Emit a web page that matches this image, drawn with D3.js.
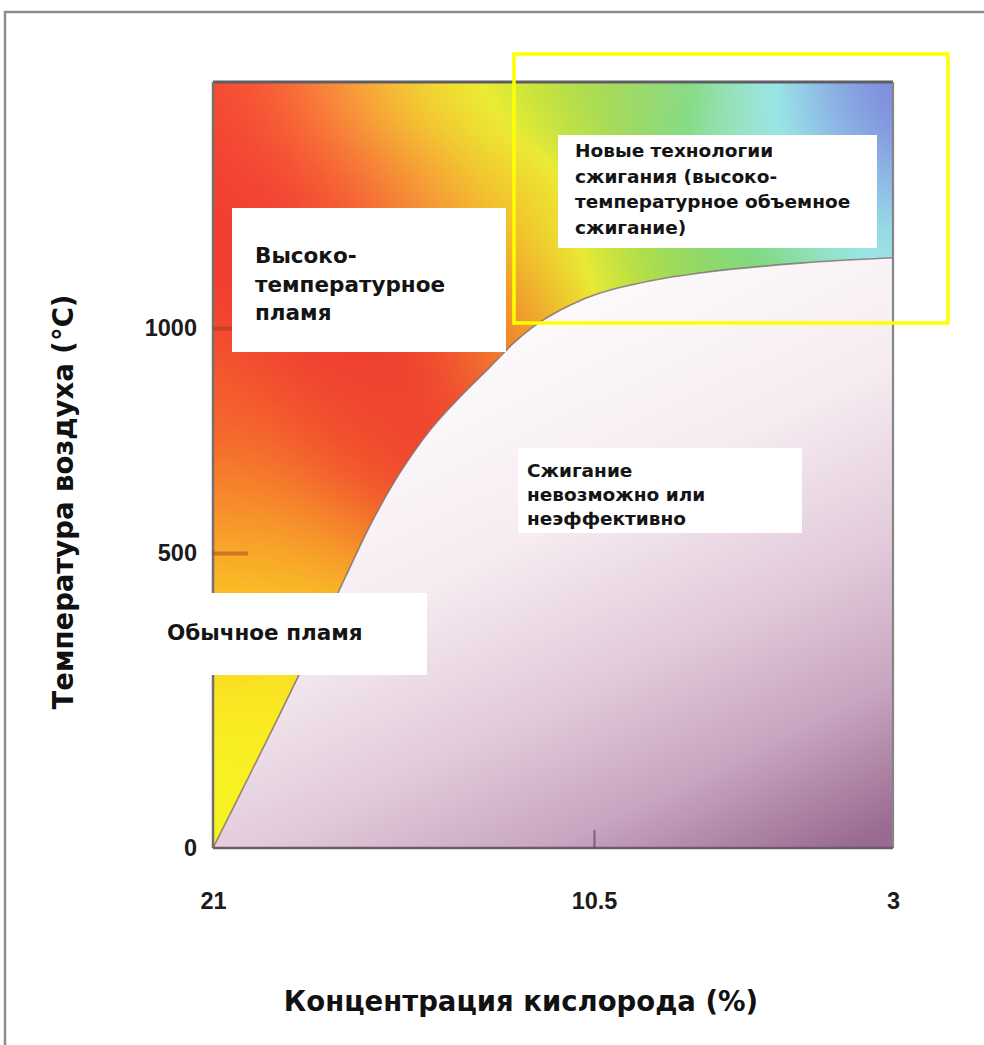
<!DOCTYPE html>
<html><head><meta charset="utf-8">
<script src="https://cdn.jsdelivr.net/npm/d3@7"></script>
<style>body{margin:0;background:#fff;} svg{display:block}</style>
</head><body>
<svg id="chart" width="984" height="1045"></svg>
<script>
// ---------- data ----------
const oxygenTicks = [21, 10.5, 3];
const tempTicks = [0, 500, 1000];
const tempTop = 1550;
// boundary between flame and "no combustion" region
const boundaryOxygen = [21, 19.98, 19.10, 18.22, 17.36, 16.62, 15.85, 15.02, 14.19, 13.37, 12.68, 11.99, 11.16, 10.35, 9.10, 7.84, 5.33, 3];
const boundaryTemp   = [0, 125, 234, 346, 458, 569, 678, 773, 847, 913, 969, 1013, 1051, 1078, 1105, 1123, 1145, 1157];
const labelHighFlame = ["Высоко-", "температурное", "пламя"];
const labelNewTech = ["Новые технологии", "сжигания (высоко-", "температурное объемное", "сжигание)"];
const labelNoBurn = ["Сжигание", "невозможно или", "неэффективно"];
const labelNormal = ["Обычное пламя"];
const xTitle = "Концентрация кислорода (%)";
const yTitle = "Температура воздуха (°C)";

// ---------- layout ----------
const L = 213, R = 893, T = 82, B = 848;
const x = d3.scaleLinear().domain([21, 10.5, 3]).range([L, 594, R]);
const y = d3.scaleLinear().domain([0, 500, 1000, tempTop]).range([B, 553, 328, T]);

const svg = d3.select("#chart");
const defs = svg.append("defs");

// outer frame
svg.append("rect").attr("x", 5).attr("y", 12).attr("width", 1000).attr("height", 1060)
  .attr("fill", "none").attr("stroke", "#8c8c8c").attr("stroke-width", 2.5);

const pts = boundaryOxygen.map((o, i) => [x(o), y(boundaryTemp[i])]);
const lineGen = d3.line().curve(d3.curveCatmullRom.alpha(0.5));
const curveD = lineGen(pts);
const aboveD = curveD + `L${R},${T}L${L},${T}Z`;
const belowD = curveD + `L${R},${B}Z`;

// ---------- colour field (style) for flame region ----------
// [fx, fy, hue, sat, light] in plot-relative fractions
const stops = [
  [0.003,0,5,.9,.58],[0.113,0,14,.95,.6],[0.2,0,32,.95,.62],[0.304,0,52,.9,.57],[0.393,0,62,.82,.55],
  [0.51,0,76,.7,.57],[0.628,0,88,.6,.62],[0.731,0,108,.5,.7],[0.819,0,172,.5,.8],[0.88,0,195,.8,.78],
  [0.94,0,220,.7,.72],[0.975,0,240,.55,.66],[0.999,0,250,.45,.62],[0.999,0.04,245,.5,.65],
  [0.996,0.1,225,.65,.72],[0.996,0.154,200,.7,.75],[0.996,0.219,170,.55,.78],
  [0.9,0.1,200,.7,.78],[0.82,0.12,150,.5,.75],
  [0.834,0.219,115,.5,.68],[0.716,0.232,92,.6,.62],[0.599,0.258,78,.7,.57],[0.51,0.285,60,.85,.55],
  [0.466,0.308,42,.9,.55],[0.437,0.154,50,.9,.56],[0.429,0.324,25,.9,.56],
  [0.393,0.343,3,.85,.57],[0.304,0.324,2,.85,.56],[0.172,0.311,2,.85,.57],[0.069,0.219,3,.88,.57],
  [0.04,0.089,4,.88,.57],[0.187,0.154,8,.9,.58],[0.3,0.15,30,.92,.6],
  [0.01,0.415,12,.9,.57],[0.01,0.52,24,.92,.57],[0.01,0.624,38,.95,.57],[0.01,0.742,52,.95,.55],
  [0.01,0.885,58,.95,.55],[0.013,0.99,60,.9,.55],
  [0.172,0.467,12,.88,.56],[0.128,0.585,30,.92,.57],[0.246,0.441,6,.86,.56],[0.084,0.807,57,.95,.56],
  [0.09,0.69,48,.95,.56]
];
function hsl2rgb(h, s, l) {
  h = (((h % 360) + 360) % 360) / 360;
  const q = l < 0.5 ? l * (1 + s) : l + s - l * s, p = 2 * l - q;
  const f = t => { if (t < 0) t += 1; if (t > 1) t -= 1;
    if (t < 1/6) return p + (q - p) * 6 * t; if (t < 1/2) return q;
    if (t < 2/3) return p + (q - p) * (2/3 - t) * 6; return p; };
  return [f(h + 1/3), f(h), f(h - 1/3)].map(v => Math.round(v * 255));
}
const PW = R - L, PH = B - T, sc = 0.5, sig2 = 2 * 55 * 55;
const cw = Math.round(PW * sc), ch = Math.round(PH * sc);
const canvas = document.createElement("canvas");
canvas.width = cw; canvas.height = ch;
const ctx = canvas.getContext("2d");
const img = ctx.createImageData(cw, ch);
for (let j = 0; j < ch; j++) {
  for (let i = 0; i < cw; i++) {
    const px = (i + 0.5) / sc, py = (j + 0.5) / sc;
    let ws = 0, hh = 0, ss = 0, ll = 0;
    for (const st of stops) {
      const dx = px - st[0] * PW, dy = py - st[1] * PH;
      const d2 = dx * dx + dy * dy;
      const w = Math.exp(-d2 / sig2) + 1e-7 / (d2 + 1);
      ws += w; hh += w * st[2]; ss += w * st[3]; ll += w * st[4];
    }
    const c = hsl2rgb(hh / ws, ss / ws, ll / ws);
    const k = (j * cw + i) * 4;
    img.data[k] = c[0]; img.data[k+1] = c[1]; img.data[k+2] = c[2]; img.data[k+3] = 255;
  }
}
ctx.putImageData(img, 0, 0);

defs.append("clipPath").attr("id", "aboveClip").append("path").attr("d", aboveD);
svg.append("image").attr("href", canvas.toDataURL())
  .attr("x", L).attr("y", T).attr("width", PW).attr("height", PH)
  .attr("preserveAspectRatio", "none").attr("clip-path", "url(#aboveClip)");

// below region gradient
const g = defs.append("linearGradient").attr("id", "belowGrad")
  .attr("gradientUnits", "userSpaceOnUse").attr("x1", 500).attr("y1", 300).attr("x2", 780).attr("y2", 880);
[[0, "#fefcfd"], [0.35, "#f6ecf1"], [0.6, "#e2cadb"], [0.8, "#c8a5c0"], [1, "#9a6b90"]]
  .forEach(s => g.append("stop").attr("offset", s[0]).attr("stop-color", s[1]));
svg.append("path").attr("d", belowD).attr("fill", "url(#belowGrad)");

// boundary line
svg.append("path").attr("d", curveD).attr("fill", "none")
  .attr("stroke", "#7d6a6e").attr("stroke-width", 1.6).attr("stroke-opacity", 0.8);

// plot borders
svg.append("line").attr("x1", L).attr("x2", R).attr("y1", T).attr("y2", T).attr("stroke", "#5d5d63").attr("stroke-width", 3);
svg.append("line").attr("x1", R).attr("x2", R).attr("y1", T).attr("y2", B).attr("stroke", "#858585").attr("stroke-width", 2.2);
svg.append("line").attr("x1", L).attr("x2", L).attr("y1", T).attr("y2", B).attr("stroke", "#7a6e68").attr("stroke-width", 2.5);
svg.append("line").attr("x1", L).attr("x2", R).attr("y1", B).attr("y2", B).attr("stroke", "#6e5a6a").attr("stroke-width", 2.5);

// axes
const yAxis = svg.append("g").attr("transform", `translate(${L},0)`)
  .call(d3.axisLeft(y).tickValues(tempTicks).tickSizeInner(-35).tickSizeOuter(0).tickPadding(16).tickFormat(d => String(d)));
yAxis.select(".domain").remove();
yAxis.selectAll(".tick line").attr("stroke", "#9a3a10").attr("stroke-opacity", 0.45).attr("stroke-width", 4);
yAxis.selectAll(".tick").filter(d => d === 0).select("line").remove();
yAxis.selectAll("text").attr("font-family", "Liberation Sans, Arial, sans-serif").attr("font-weight", "bold")
  .attr("font-size", 23.5).attr("fill", "#1c1c1c");

const xAxis = svg.append("g").attr("transform", `translate(0,${B})`)
  .call(d3.axisBottom(x).tickValues(oxygenTicks).tickSizeInner(-18).tickSizeOuter(0).tickPadding(44).tickFormat(d => String(d)));
xAxis.select(".domain").remove();
xAxis.selectAll(".tick line").attr("stroke", "#5a3050").attr("stroke-opacity", 0.6).attr("stroke-width", 2);
xAxis.selectAll(".tick").filter(d => d !== 10.5).select("line").remove();
xAxis.selectAll("text").attr("font-family", "Liberation Sans, Arial, sans-serif").attr("font-weight", "bold")
  .attr("font-size", 23.5).attr("fill", "#1c1c1c");

// label boxes
function box(rx, ry, rw, rh, tx, baselines, lines, fs) {
  svg.append("rect").attr("x", rx).attr("y", ry).attr("width", rw).attr("height", rh).attr("fill", "#fff");
  const t = svg.append("text").attr("font-family", "DejaVu Sans, Verdana, sans-serif")
    .attr("font-weight", "bold").attr("font-size", fs).attr("fill", "#141414");
  lines.forEach((s, i) => t.append("tspan").attr("x", tx).attr("y", baselines[i]).text(s));
}
box(232, 208, 274, 144, 255, [263, 292, 320], labelHighFlame, 21.5);
box(558, 135, 319, 113, 575, [157, 182.5, 208, 233.5], labelNewTech, 18.5);
box(518, 448, 284, 85, 527, [477, 501, 525], labelNoBurn, 18.5);
box(150, 593, 277, 82, 167, [640], labelNormal, 21.5);

// yellow highlight
svg.append("rect").attr("x", 514).attr("y", 54).attr("width", 434).attr("height", 269)
  .attr("fill", "none").attr("stroke", "#ffff00").attr("stroke-width", 3.5);

// axis titles
svg.append("text").attr("x", 521).attr("y", 1011).attr("text-anchor", "middle")
  .attr("font-family", "DejaVu Sans, Verdana, sans-serif").attr("font-weight", "bold")
  .attr("font-size", 27.5).attr("fill", "#111").text(xTitle);
svg.append("text").attr("transform", "translate(73,502) rotate(-90)").attr("text-anchor", "middle")
  .attr("font-family", "DejaVu Sans, Verdana, sans-serif").attr("font-weight", "bold")
  .attr("font-size", 27.5).attr("fill", "#111").text(yTitle);
</script>
</body></html>
